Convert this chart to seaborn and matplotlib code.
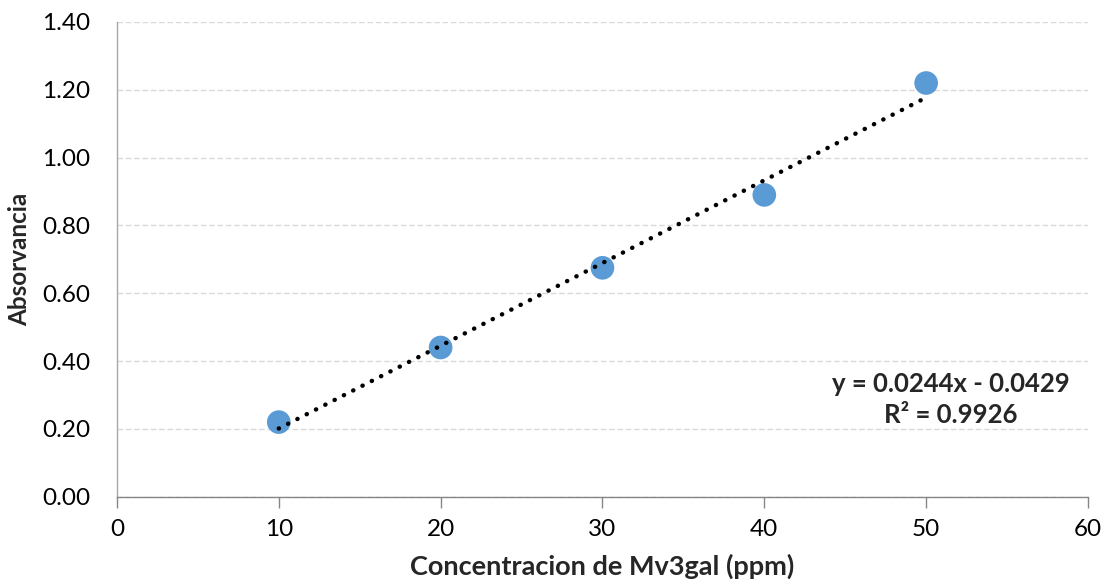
import matplotlib
matplotlib.use("Agg")
import matplotlib.pyplot as plt
import numpy as np
import pandas as pd
import seaborn as sns

# Calibration data: Mv3gal concentration vs. absorbance
concentracion = [10, 20, 30, 40, 50]
absorvancia = [0.22, 0.44, 0.675, 0.89, 1.22]

# Linear trendline coefficients
pendiente = 0.0244
intercepto = -0.0429
r2 = 0.9926

x_ticks = [0, 10, 20, 30, 40, 50, 60]
y_ticks = [0.0, 0.2, 0.4, 0.6, 0.8, 1.0, 1.2, 1.4]

sns.set_theme(style="white")
plt.rcParams["font.family"] = ["Lato", "DejaVu Sans"]

fig = plt.figure(figsize=(11.03, 5.86), dpi=100)
ax = fig.add_axes([0.106, 0.1524, 0.8804, 0.8101])

df = pd.DataFrame({"x": concentracion, "y": absorvancia})

# Trendline over the data range
tx = np.array([min(concentracion), max(concentracion)], dtype=float)
trend = pd.DataFrame({"x": tx, "y": pendiente * tx + intercepto})
sns.lineplot(data=trend, x="x", y="y", ax=ax, color="black", linewidth=3.2,
             linestyle=(0, (0.05, 2.3)), dash_capstyle="round", zorder=3)

sns.scatterplot(data=df, x="x", y="y", ax=ax, s=290, color="#5B9BD5",
                edgecolor="none", zorder=2)

ax.set_xlim(0, 60)
ax.set_ylim(0, 1.4)
ax.set_xticks(x_ticks)
ax.set_yticks(y_ticks)
ax.set_xticklabels([str(v) for v in x_ticks], fontsize=17.5, color="black")
ax.set_yticklabels([f"{v:.2f}" for v in y_ticks], fontsize=17.5, color="black")

ax.yaxis.grid(True, color="#D9D9D9", linestyle=(0, (4, 2)), linewidth=1.0)
ax.xaxis.grid(False)
ax.set_axisbelow(True)

for side in ["top", "right"]:
    ax.spines[side].set_visible(False)
ax.spines["left"].set_color("#A6A6A6")
ax.spines["bottom"].set_color("#868686")
ax.spines["left"].set_linewidth(1.0)
ax.spines["bottom"].set_linewidth(1.0)

ax.tick_params(axis="x", which="major", bottom=True, length=8, width=1.0,
               color="#868686", direction="out", pad=8)
ax.tick_params(axis="y", which="major", left=False, pad=13)

ax.set_xlabel("Concentracion de Mv3gal (ppm)", fontsize=19.5, fontweight="bold",
              labelpad=10)
ax.set_ylabel("Absorvancia", fontsize=17.5, fontweight="bold")
ax.yaxis.set_label_coords(-0.088, 0.5)

ax.text(0.981, 0.205, f"y = {pendiente}x - {abs(intercepto)}\nR² = {r2}",
        transform=ax.transAxes, ha="right", va="center", fontsize=18.5,
        fontweight="bold", multialignment="center", linespacing=1.32)

fig.savefig("out.png", dpi=100)
